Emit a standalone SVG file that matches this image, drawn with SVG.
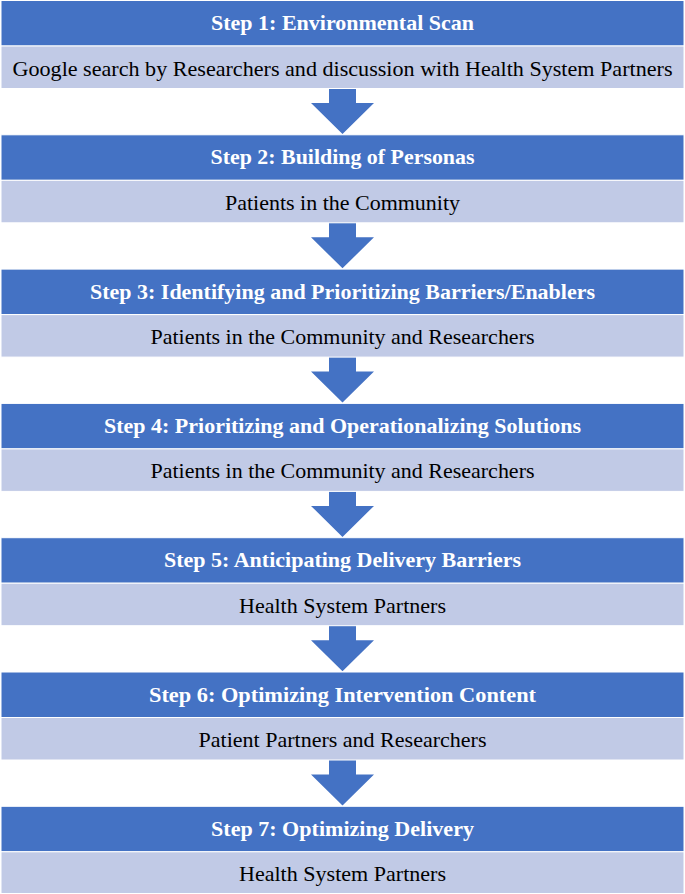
<svg xmlns="http://www.w3.org/2000/svg" width="685" height="894" viewBox="0 0 685 894">
<style>
.hd{fill:#4472C4;stroke:#fff;stroke-width:1}
.sb{fill:#C1CAE6;stroke:#fff;stroke-width:1}
.ht{font-family:"Liberation Serif",serif;font-weight:bold;font-size:21px;fill:#fff;text-anchor:middle}
.st{font-family:"Liberation Serif",serif;font-size:22px;fill:#000;text-anchor:middle}
.ar{fill:#4472C4}
</style>
<rect width="685" height="894" fill="#fff"/>
<g id="connectors">
<polygon class="ar" points="329,88 356,88 356,103 374,103 342.5,134 311,103 329,103"/>
<polygon class="ar" points="329,222.3 356,222.3 356,237.3 374,237.3 342.5,268.3 311,237.3 329,237.3"/>
<polygon class="ar" points="329,356.6 356,356.6 356,371.6 374,371.6 342.5,402.6 311,371.6 329,371.6"/>
<polygon class="ar" points="329,490.9 356,490.9 356,505.9 374,505.9 342.5,536.9 311,505.9 329,505.9"/>
<polygon class="ar" points="329,625.2 356,625.2 356,640.2 374,640.2 342.5,671.2 311,640.2 329,640.2"/>
<polygon class="ar" points="329,759.5 356,759.5 356,774.5 374,774.5 342.5,805.5 311,774.5 329,774.5"/>
</g>
<g id="step1">
<rect class="hd" x="1" y="0.5" width="683" height="45.5"/>
<text class="ht" x="342.5" y="30" textLength="263" lengthAdjust="spacingAndGlyphs">Step 1: Environmental Scan</text>
<rect class="sb" x="1" y="46" width="683" height="42.5"/>
<text class="st" x="342.5" y="75.5" textLength="660" lengthAdjust="spacingAndGlyphs">Google search by Researchers and discussion with Health System Partners</text>
</g>
<g id="step2">
<rect class="hd" x="1" y="134.8" width="683" height="45.5"/>
<text class="ht" x="342.5" y="164.3" textLength="264" lengthAdjust="spacingAndGlyphs">Step 2: Building of Personas</text>
<rect class="sb" x="1" y="180.3" width="683" height="42.5"/>
<text class="st" x="342.5" y="209.8" textLength="235" lengthAdjust="spacingAndGlyphs">Patients in the Community</text>
</g>
<g id="step3">
<rect class="hd" x="1" y="269.1" width="683" height="45.5"/>
<text class="ht" x="342.5" y="298.6" textLength="505" lengthAdjust="spacingAndGlyphs">Step 3: Identifying and Prioritizing Barriers/Enablers</text>
<rect class="sb" x="1" y="314.6" width="683" height="42.5"/>
<text class="st" x="342.5" y="344.1" textLength="384" lengthAdjust="spacingAndGlyphs">Patients in the Community and Researchers</text>
</g>
<g id="step4">
<rect class="hd" x="1" y="403.4" width="683" height="45.5"/>
<text class="ht" x="342.5" y="432.9" textLength="477" lengthAdjust="spacingAndGlyphs">Step 4: Prioritizing and Operationalizing Solutions</text>
<rect class="sb" x="1" y="448.9" width="683" height="42.5"/>
<text class="st" x="342.5" y="478.4" textLength="384" lengthAdjust="spacingAndGlyphs">Patients in the Community and Researchers</text>
</g>
<g id="step5">
<rect class="hd" x="1" y="537.7" width="683" height="45.5"/>
<text class="ht" x="342.5" y="567.2" textLength="357" lengthAdjust="spacingAndGlyphs">Step 5: Anticipating Delivery Barriers</text>
<rect class="sb" x="1" y="583.2" width="683" height="42.5"/>
<text class="st" x="342.5" y="612.7" textLength="207" lengthAdjust="spacingAndGlyphs">Health System Partners</text>
</g>
<g id="step6">
<rect class="hd" x="1" y="672" width="683" height="45.5"/>
<text class="ht" x="342.5" y="701.5" textLength="387" lengthAdjust="spacingAndGlyphs">Step 6: Optimizing Intervention Content</text>
<rect class="sb" x="1" y="717.5" width="683" height="42.5"/>
<text class="st" x="342.5" y="747" textLength="288" lengthAdjust="spacingAndGlyphs">Patient Partners and Researchers</text>
</g>
<g id="step7">
<rect class="hd" x="1" y="806.3" width="683" height="45.5"/>
<text class="ht" x="342.5" y="835.8" textLength="263" lengthAdjust="spacingAndGlyphs">Step 7: Optimizing Delivery</text>
<rect class="sb" x="1" y="851.8" width="683" height="41.7"/>
<text class="st" x="342.5" y="880.8" textLength="207" lengthAdjust="spacingAndGlyphs">Health System Partners</text>
</g>
</svg>
